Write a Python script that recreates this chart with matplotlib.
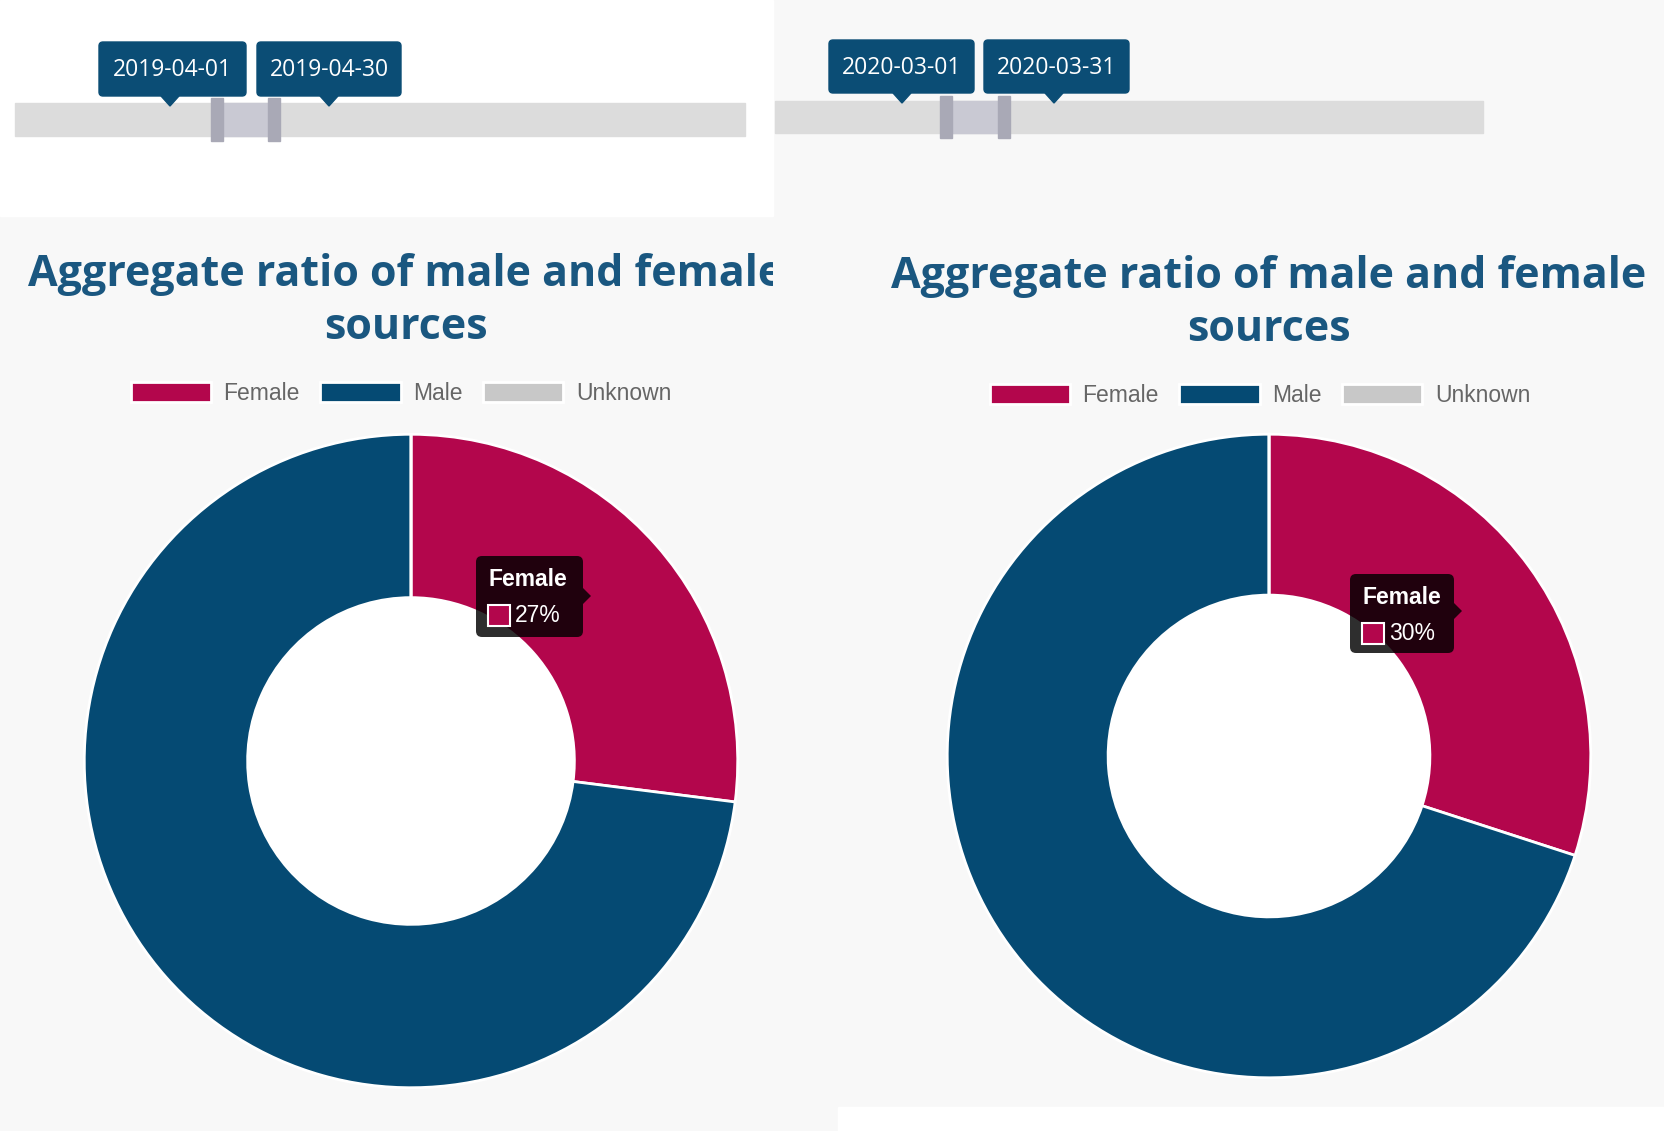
import matplotlib.pyplot as plt
from matplotlib.patches import Rectangle, FancyBboxPatch, Polygon, Circle
from matplotlib.transforms import Bbox, TransformedBbox
import numpy as np

# data
labels = ['Female', 'Male', 'Unknown']
shares_2019 = [27, 73, 0]
shares_2020 = [30, 70, 0]
start_dates = ['2019-04-01', '2020-03-01']
end_dates = ['2019-04-30', '2020-03-31']
title = 'Aggregate ratio of male and female\nsources'

colors = ['#b3064c', '#054a73', '#c8c8c8']
title_col = '#1a5780'
date_col = '#0b4d75'

W, H = 1664, 1131
fig = plt.figure(figsize=(W / 100, H / 100), dpi=100)
fig.patch.set_facecolor('#f8f8f8')

# background axes in pixel coords
bg = fig.add_axes([0, 0, 1, 1])
bg.set_xlim(0, W)
bg.set_ylim(H, 0)
bg.axis('off')
bg.add_patch(Rectangle((0, 0), 773, 216, color='white', zorder=0))
bg.add_patch(Rectangle((838, 1107), W - 838, H - 1107, color='white', zorder=0))


def slider(x0, x1, y0, y1, h1, h2, boxes, tips):
    bg.add_patch(Rectangle((x0, y0), x1 - x0, y1 - y0, color='#dcdcdc', zorder=1))
    bg.add_patch(Rectangle((h1, y0), h2 - h1, y1 - y0, color='#c9c9d3', zorder=2))
    for h in (h1, h2):
        bg.add_patch(Rectangle((h - 6, y0 - 5), 12, (y1 - y0) + 10, color='#a9a9b6', zorder=3))
    for (bx0, bx1, by0, by1, txt), tx in zip(boxes, tips):
        bg.add_patch(FancyBboxPatch((bx0 + 4, by0 + 4), bx1 - bx0 - 8, by1 - by0 - 8,
                                    boxstyle='round,pad=4', color=date_col, zorder=4))
        bg.add_patch(Polygon([(tx - 9, by1), (tx + 9, by1), (tx, by1 + 10)],
                             color=date_col, zorder=4))
        bg.text((bx0 + bx1) / 2, (by0 + by1) / 2 + 1, txt, color='white', fontsize=16.5,
                family='Open Sans', ha='center', va='center', zorder=5)


slider(15, 745, 103, 136, 217, 274,
       [(99, 246, 42, 96, start_dates[0]), (257, 401, 42, 96, end_dates[0])], [170, 329])
slider(775, 1483, 101, 133, 946, 1004,
       [(829, 974, 40, 93, start_dates[1]), (984, 1129, 40, 93, end_dates[1])], [902, 1054])

# titles (left one is cut off at the panel edge)
t = bg.text(406, 301, title, color=title_col, fontsize=31, fontweight='bold',
            family='Open Sans', ha='center', va='center', linespacing=1.3)
t.set_clip_box(TransformedBbox(Bbox([[0, 0], [773, H]]), bg.transData))
t.set_clip_on(True)
bg.text(1269, 303, title, color=title_col, fontsize=31, fontweight='bold',
        family='Open Sans', ha='center', va='center', linespacing=1.3)


def donut(cx, cy, R, shares, leg_x, leg_y):
    ax = fig.add_axes([(cx - R) / W, 1 - (cy + R) / H, 2 * R / W, 2 * R / H])
    wedges, _ = ax.pie(shares, colors=colors, startangle=90, counterclock=False,
                       wedgeprops=dict(width=0.5, edgecolor='white', linewidth=2))
    ax.add_patch(Circle((0, 0), 0.5, color='white', zorder=0))
    ax.set_xlim(-1.01, 1.01)
    ax.set_ylim(-1.01, 1.01)
    ax.legend(wedges, labels, ncol=3, loc='center', frameon=False,
              bbox_to_anchor=(leg_x / W, 1 - leg_y / H), bbox_transform=fig.transFigure,
              prop=dict(family='Liberation Sans', size=16.5), labelcolor='#666666',
              handlelength=3.5, handleheight=0.95, handletextpad=0.55, columnspacing=0.9)
    return ax


donut(411, 761, 330, shares_2019, 401, 393)
donut(1269, 756, 325, shares_2020, 1260, 395)

# tooltips on top
top = fig.add_axes([0, 0, 1, 1])
top.set_xlim(0, W)
top.set_ylim(H, 0)
top.axis('off')
top.patch.set_alpha(0)


def tooltip(x0, x1, y0, y1, ty, value):
    top.add_patch(FancyBboxPatch((x0 + 6, y0 + 6), x1 - x0 - 12, y1 - y0 - 12,
                                 boxstyle='round,pad=6', color='black', alpha=0.82, lw=0))
    top.add_patch(Polygon([(x1, ty - 8), (x1 + 8, ty), (x1, ty + 8)],
                          color='black', alpha=0.82, lw=0))
    top.text(x0 + 12, y0 + 23, 'Female', color='white', fontsize=16.5, fontweight='bold',
             family='Liberation Sans', ha='left', va='center')
    top.add_patch(Rectangle((x0 + 12, y0 + 49), 22, 21, facecolor=colors[0],
                            edgecolor='white', lw=1.5))
    top.text(x0 + 39, y0 + 60, f'{value}%', color='white', fontsize=16.5,
             family='Liberation Sans', ha='left', va='center')


tooltip(476, 583, 556, 637, 596, shares_2019[0])
tooltip(1350, 1454, 574, 653, 611, shares_2020[0])

fig.savefig('out.png', dpi=100, facecolor=fig.get_facecolor())
